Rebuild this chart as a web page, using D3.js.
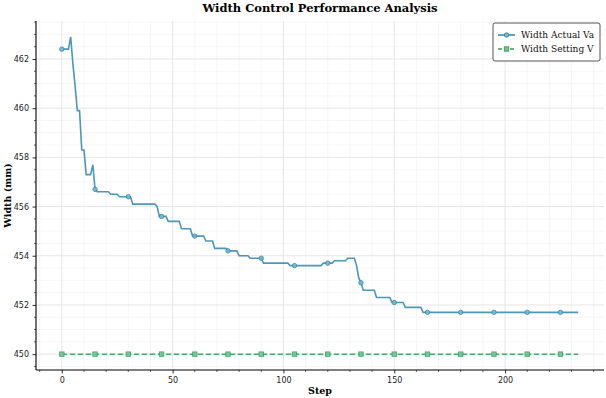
<!DOCTYPE html>
<html><head><meta charset="utf-8">
<script src="https://cdn.jsdelivr.net/npm/d3@7"></script>
<style>body{margin:0;background:#fff}svg{display:block}</style>
</head><body>
<svg id="c" width="606" height="398"></svg>
<script>
const title = "Width Control Performance Analysis";
const xLabel = "Step";
const yLabel = "Width (mm)";
const seriesNames = ["Width Actual Va", "Width Setting V"];
const xTicks = [0, 50, 100, 150, 200];
const yTicks = [450, 452, 454, 456, 458, 460, 462];
const markEvery = 15;
const actualValues = [
462.4,462.4,462.4,462.4,462.9,461.8,460.9,459.9,459.9,458.3,
458.3,457.3,457.3,457.3,457.7,456.7,456.6,456.6,456.6,456.6,
456.6,456.6,456.5,456.5,456.5,456.5,456.4,456.4,456.4,456.4,
456.4,456.4,456.1,456.1,456.1,456.1,456.1,456.1,456.1,456.1,
456.1,456.1,456.1,456.0,455.6,455.6,455.6,455.6,455.4,455.4,
455.4,455.4,455.4,455.4,455.1,455.1,455.1,455.1,455.1,454.8,
454.8,454.8,454.8,454.8,454.8,454.6,454.6,454.6,454.6,454.3,
454.3,454.3,454.3,454.3,454.3,454.2,454.2,454.2,454.2,454.2,
454.0,454.0,454.0,454.0,454.0,453.9,453.9,453.9,453.9,453.9,
453.9,453.7,453.7,453.7,453.7,453.7,453.7,453.7,453.7,453.7,
453.7,453.7,453.7,453.6,453.6,453.6,453.6,453.6,453.6,453.6,
453.6,453.6,453.6,453.6,453.6,453.6,453.6,453.6,453.7,453.7,
453.7,453.7,453.7,453.8,453.8,453.8,453.8,453.8,453.8,453.9,
453.9,453.9,453.9,453.6,453.1,452.9,452.6,452.6,452.6,452.6,
452.6,452.6,452.3,452.3,452.3,452.3,452.3,452.3,452.3,452.1,
452.1,452.1,452.1,452.1,452.1,451.9,451.9,451.9,451.9,451.9,
451.9,451.9,451.9,451.7,451.7,451.7,451.7,451.7,451.7,451.7,
451.7,451.7,451.7,451.7,451.7,451.7,451.7,451.7,451.7,451.7,
451.7,451.7,451.7,451.7,451.7,451.7,451.7,451.7,451.7,451.7,
451.7,451.7,451.7,451.7,451.7,451.7,451.7,451.7,451.7,451.7,
451.7,451.7,451.7,451.7,451.7,451.7,451.7,451.7,451.7,451.7,
451.7,451.7,451.7,451.7,451.7,451.7,451.7,451.7,451.7,451.7,
451.7,451.7,451.7,451.7,451.7,451.7,451.7,451.7,451.7,451.7,
451.7,451.7,451.7,451.7
];
const settingValues = actualValues.map(() => 450.0);
const colors = ["#2E86AB", "#3A9E5C"];

const svg = d3.select("#c");
const L = 36, R = 604, T = 21, B = 370;
const n = actualValues.length;
const allVals = actualValues.concat(settingValues);
const xmin = 0, xmax = n - 1;
const ymin = d3.min(allVals), ymax = d3.max(allVals);
const xm = (xmax - xmin) * 0.05, ym = (ymax - ymin) * 0.05;
const x = d3.scaleLinear().domain([xmin - xm, xmax + xm]).range([L, R]);
const y = d3.scaleLinear().domain([ymin - ym, ymax + ym]).range([B, T]);

const xMinor = d3.range(-10, 250, 10).filter(v => v >= x.domain()[0] && v <= x.domain()[1] && v % 50 !== 0);
const yMinor = d3.range(449.5, 463.6, 0.5).filter(v => v >= y.domain()[0] && v <= y.domain()[1] && Math.abs(v % 2) > 1e-6);

const grid = svg.append("g");
grid.selectAll(".xmn").data(xMinor).enter().append("line")
  .attr("x1", d => x(d)).attr("x2", d => x(d)).attr("y1", T).attr("y2", B)
  .attr("stroke", "#f0f0f0").attr("stroke-width", 0.6);
grid.selectAll(".ymn").data(yMinor).enter().append("line")
  .attr("x1", L).attr("x2", R).attr("y1", d => y(d)).attr("y2", d => y(d))
  .attr("stroke", "#f0f0f0").attr("stroke-width", 0.6);
grid.selectAll(".xmj").data(xTicks).enter().append("line")
  .attr("x1", d => x(d)).attr("x2", d => x(d)).attr("y1", T).attr("y2", B)
  .attr("stroke", "#e6e6e6").attr("stroke-width", 1);
grid.selectAll(".ymj").data(yTicks).enter().append("line")
  .attr("x1", L).attr("x2", R).attr("y1", d => y(d)).attr("y2", d => y(d))
  .attr("stroke", "#e6e6e6").attr("stroke-width", 1);

const idx = d3.range(n);
const line = vals => d3.line().x(i => x(i)).y(i => y(vals[i]))(idx);

svg.append("path").attr("d", line(settingValues)).attr("fill", "none")
  .attr("stroke", colors[1]).attr("stroke-width", 1.5).attr("stroke-dasharray", "5.5,2.5").attr("opacity", 0.9);
svg.append("path").attr("d", line(actualValues)).attr("fill", "none")
  .attr("stroke", colors[0]).attr("stroke-width", 1.6).attr("opacity", 0.85);

const marks = idx.filter(i => i % markEvery === 0);
svg.selectAll(".ma").data(marks).enter().append("circle")
  .attr("cx", i => x(i)).attr("cy", i => y(actualValues[i])).attr("r", 2.2)
  .attr("fill", "#7fb7cf").attr("stroke", colors[0]).attr("stroke-width", 0.9).attr("opacity", 0.9);
svg.selectAll(".ms").data(marks).enter().append("rect")
  .attr("x", i => x(i) - 2.2).attr("y", i => y(settingValues[i]) - 2.2).attr("width", 4.4).attr("height", 4.4)
  .attr("fill", "#7cc196").attr("stroke", colors[1]).attr("stroke-width", 0.9).attr("opacity", 0.9);

// axes
const xAxis = svg.append("g").attr("transform", `translate(0,${B})`)
  .call(d3.axisBottom(x).tickValues(xTicks).tickSize(3.5).tickPadding(3.5).tickFormat(d3.format("d")));
xAxis.append("g").selectAll("line").data(xMinor).enter().append("line")
  .attr("x1", d => x(d)).attr("x2", d => x(d)).attr("y1", 0).attr("y2", 2).attr("stroke", "#000").attr("stroke-width", 0.6);
const yAxis = svg.append("g").attr("transform", `translate(${L},0)`)
  .call(d3.axisLeft(y).tickValues(yTicks).tickSize(3.5).tickPadding(3.5).tickFormat(d3.format("d")));
yAxis.append("g").selectAll("line").data(yMinor).enter().append("line")
  .attr("y1", d => y(d)).attr("y2", d => y(d)).attr("x1", 0).attr("x2", -2).attr("stroke", "#000").attr("stroke-width", 0.6);
[xAxis, yAxis].forEach(a => {
  a.selectAll(".tick line").attr("stroke", "#000").attr("stroke-width", 0.8);
  a.selectAll(".tick text").attr("font-family", "DejaVu Sans").attr("font-size", 8).attr("fill", "#222");
});
xAxis.select(".domain").remove();
yAxis.select(".domain").remove();
svg.append("line").attr("x1", L).attr("x2", R).attr("y1", B).attr("y2", B).attr("stroke", "#000").attr("stroke-width", 1.1);
svg.append("line").attr("x1", L).attr("x2", L).attr("y1", T).attr("y2", B).attr("stroke", "#000").attr("stroke-width", 1.1);

// labels
svg.append("text").attr("x", (L + R) / 2).attr("y", 11.5).attr("text-anchor", "middle")
  .attr("font-family", "DejaVu Serif").attr("font-weight", "bold").attr("font-size", 11.5).text(title);
svg.append("text").attr("x", (L + R) / 2).attr("y", 394).attr("text-anchor", "middle")
  .attr("font-family", "DejaVu Serif").attr("font-weight", "bold").attr("font-size", 9.5).text(xLabel);
svg.append("text").attr("transform", `translate(11,${(T + B) / 2}) rotate(-90)`).attr("text-anchor", "middle")
  .attr("font-family", "DejaVu Serif").attr("font-weight", "bold").attr("font-size", 9.5).text(yLabel);

// legend
const lg = svg.append("g").attr("transform", "translate(493,23)");
lg.append("rect").attr("x", 0).attr("y", 0).attr("width", 107).attr("height", 38).attr("rx", 2)
  .attr("fill", "#fff").attr("stroke", "#444").attr("stroke-width", 0.9);
seriesNames.forEach((s, i) => {
  const yy = 12 + i * 14;
  lg.append("line").attr("x1", 5).attr("x2", 22).attr("y1", yy).attr("y2", yy)
    .attr("stroke", colors[i]).attr("stroke-width", 1.5).attr("stroke-dasharray", i ? "4,2" : null);
  if (i === 0) lg.append("circle").attr("cx", 13.5).attr("cy", yy).attr("r", 2.2).attr("fill", "#7fb7cf").attr("stroke", colors[0]).attr("stroke-width", 0.9);
  else lg.append("rect").attr("x", 11.3).attr("y", yy - 2.2).attr("width", 4.4).attr("height", 4.4).attr("fill", "#7cc196").attr("stroke", colors[1]).attr("stroke-width", 0.9);
  lg.append("text").attr("x", 28).attr("y", yy + 3).attr("font-family", "DejaVu Serif").attr("font-size", 9).attr("fill", "#111").text(s);
});
</script>
</body></html>
